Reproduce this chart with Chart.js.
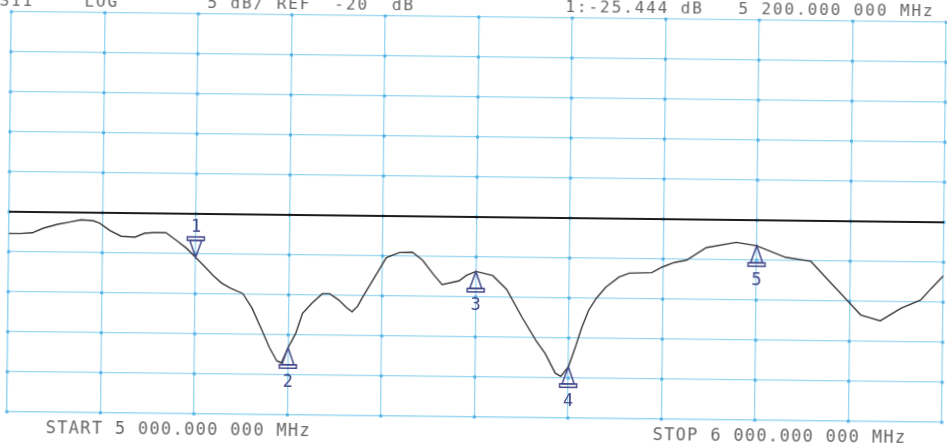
<!DOCTYPE html>
<html>
<head>
<meta charset="utf-8">
<script src="https://cdn.jsdelivr.net/npm/chart.js@4"></script>
<style>
  html, body { margin: 0; padding: 0; background: #fff; overflow: hidden; }
  #stage { position: relative; width: 947px; height: 446px; transform: rotate(0.65deg); }
  canvas { position: absolute; left: 0; top: 0; }
  .txt { position: absolute; white-space: pre; font-family: "DejaVu Sans Mono", monospace; color: #666; line-height: 1; }
  .hdr { font-size: 16px; letter-spacing: 1.9px; top: -2px; }
  .ftr { font-size: 17px; letter-spacing: 1.3px; top: 424px; }
</style>
</head>
<body>
<div id="stage">
  <canvas id="s11Chart" width="947" height="446"></canvas>
  <div class="txt hdr" style="left:-3px">S11</div>
  <div class="txt hdr" style="left:82px">LOG</div>
  <div class="txt hdr" style="left:205px">5 dB/ REF  -20  dB</div>
  <div class="txt hdr" style="left:563px">1:-25.444 dB   5 200.000 000 MHz</div>
  <div class="txt ftr" style="left:48px">START 5 000.000 000 MHz</div>
  <div class="txt ftr" style="left:655px">STOP 6 000.000 000 MHz</div>
</div>
<script>
// trace (MHz, dB)
const freqMHz = [5000, 5012, 5025, 5037, 5052, 5065, 5077, 5090, 5097, 5108,
                 5120, 5135, 5145, 5155, 5168, 5180, 5190, 5200, 5210, 5219,
                 5228, 5237, 5251, 5261, 5272, 5280, 5288, 5293, 5300, 5308,
                 5315, 5325, 5336, 5344, 5354, 5362, 5368, 5374, 5379, 5394,
                 5404, 5418, 5432, 5443, 5455, 5464, 5482, 5490, 5500, 5518,
                 5533, 5550, 5565, 5575, 5586, 5592, 5600, 5607, 5614, 5621,
                 5629, 5639, 5653, 5664, 5688, 5699, 5712, 5725, 5746, 5778,
                 5800, 5831, 5858, 5877, 5899, 5912, 5933, 5955, 5976, 5987,
                 6000];
const s11dB = [-22.7, -22.7, -22.6, -22.0, -21.5, -21.2, -20.9, -21.0, -21.3, -22.2,
               -22.9, -23.0, -22.5, -22.4, -22.4, -23.4, -24.3, -25.44, -26.6, -27.7,
               -28.6, -29.2, -29.9, -31.7, -34.5, -36.6, -38.25, -38.5, -36.6, -34.8,
               -32.3, -31.0, -29.8, -29.8, -30.6, -31.5, -32.0, -31.3, -30.2, -27.2,
               -25.2, -24.55, -24.5, -25.5, -27.3, -28.5, -28.0, -27.3, -26.8, -27.3,
               -29.0, -32.5, -35.35, -36.95, -39.4, -39.8, -38.6, -36.2, -33.6, -31.5,
               -30.0, -28.6, -27.3, -26.8, -26.7, -26.0, -25.4, -25.1, -23.5, -22.8,
               -23.2, -24.6, -25.05, -27.4, -30.1, -31.7, -32.4, -30.8, -29.75, -28.3,
               -26.7];

const markerFreq = [5200, 5300, 5500, 5600, 5800];
const markerDb = [-25.444, -36.6, -26.8, -38.6, -23.2];
const markerLabel = ['1', '2', '3', '4', '5'];
const markerAbove = [true, false, false, false, false];

const refLevel = -20;
const startMHz = 5000, stopMHz = 6000, divMHz = 100;
const topDb = 5, bottomDb = -45, divDb = 5;

const gridColor = '#98d6f0';

// little dots where the graticule lines cross
const gridDots = {
    id: 'gridDots',
    beforeDatasetsDraw(chart) {
        const {ctx, scales: {x, y}} = chart;
        ctx.save();
        ctx.fillStyle = '#55b2e6';
        x.ticks.forEach(tx => {
            y.ticks.forEach(ty => {
                const px = x.getPixelForValue(tx.value);
                const py = y.getPixelForValue(ty.value);
                ctx.fillRect(px - 1.5, py - 1.5, 3, 3);
            });
        });
        ctx.restore();
    }
};

// marker triangles with their numbers
const markers = {
    id: 'markers',
    afterDatasetsDraw(chart) {
        const {ctx, scales: {x, y}} = chart;
        ctx.save();
        ctx.strokeStyle = '#434889';
        ctx.fillStyle = '#434889';
        ctx.lineWidth = 1.5;
        ctx.font = '17px "DejaVu Sans Mono", monospace';
        ctx.textAlign = 'center';
        markerFreq.forEach((f, i) => {
            const px = x.getPixelForValue(f);
            const py = y.getPixelForValue(markerDb[i]);
            const s = markerAbove[i] ? -1 : 1;
            ctx.beginPath();
            ctx.moveTo(px, py);
            ctx.lineTo(px - 6, py + s * 17);
            ctx.lineTo(px + 6, py + s * 17);
            ctx.closePath();
            ctx.stroke();
            ctx.strokeRect(px - 8.5, py + s * 17, 17, s * 3.5);
            ctx.textBaseline = 'alphabetic';
            if (markerAbove[i]) {
                ctx.fillText(markerLabel[i], px, py - 26);
            } else {
                ctx.fillText(markerLabel[i], px, py + 39);
            }
        });
        ctx.restore();
    }
};

const ctx = document.getElementById('s11Chart').getContext('2d');
const s11Chart = new Chart(ctx, {
    type: 'line',
    data: {
        datasets: [{
            label: 'S11',
            data: freqMHz.map((f, i) => ({x: f, y: s11dB[i]})),
            borderColor: '#3a3a3a',
            borderWidth: 1.4,
            pointRadius: 0,
            tension: 0,
            fill: false
        }, {
            label: 'REF',
            data: [{x: startMHz, y: refLevel}, {x: stopMHz, y: refLevel}],
            borderColor: '#1c1c1c',
            borderWidth: 2,
            pointRadius: 0,
            fill: false
        }]
    },
    options: {
        responsive: false,
        animation: false,
        layout: {
            padding: {left: 9, top: 17, right: 3, bottom: 29}
        },
        plugins: {
            legend: {display: false},
            tooltip: {enabled: false}
        },
        scales: {
            x: {
                type: 'linear',
                min: startMHz,
                max: stopMHz,
                ticks: {display: false, stepSize: divMHz},
                grid: {color: gridColor, lineWidth: 1.3, drawTicks: false},
                border: {color: gridColor, width: 1.3}
            },
            y: {
                min: bottomDb,
                max: topDb,
                ticks: {display: false, stepSize: divDb},
                grid: {color: gridColor, lineWidth: 1.3, drawTicks: false},
                border: {color: gridColor, width: 1.3}
            }
        }
    },
    plugins: [gridDots, markers]
});
</script>
</body>
</html>
